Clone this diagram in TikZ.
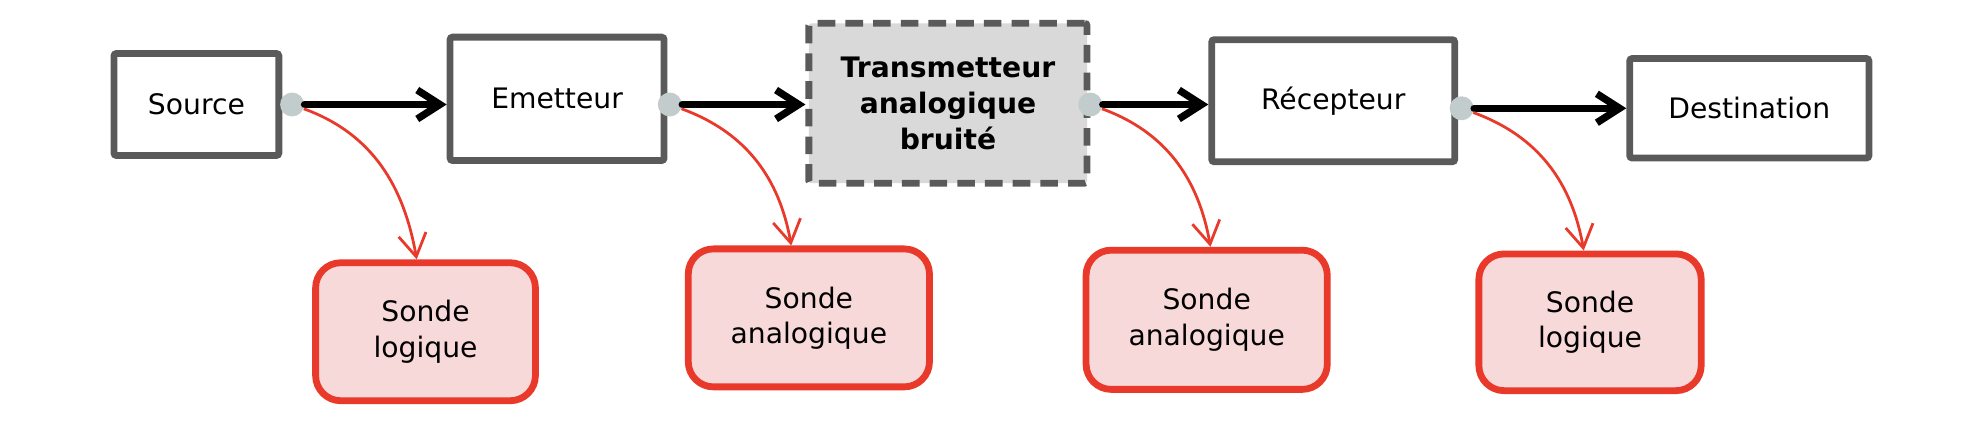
\documentclass[tikz,border=0pt]{standalone}
\usepackage{fontspec}
\setmainfont{DejaVu Sans}
\usetikzlibrary{arrows.meta,calc}
\definecolor{boxgray}{HTML}{5A5A5A}
\definecolor{tapgray}{HTML}{C3CCCD}
\definecolor{chanfill}{HTML}{D9D9D9}
\definecolor{probered}{HTML}{E8392A}
\definecolor{probefill}{HTML}{F8D9DA}
\begin{document}
\begin{tikzpicture}[x=0.5pt,y=-0.5pt,
    font=\fontsize{11.2}{14}\selectfont,
    block/.style={draw=boxgray,line width=2.7pt,rounded corners=1pt,fill=white,inner sep=0pt,align=center},
    channel/.style={block,fill=chanfill,dash pattern=on 7pt off 4pt,font=\fontsize{11.2}{14.3}\selectfont\bfseries},
    probe/.style={draw=probered,fill=probefill,line width=2.7pt,rounded corners=10pt,inner sep=0pt,align=center},
    tap/.style={circle,fill=tapgray,inner sep=0pt,minimum size=9.5pt},
    flow/.style={line width=2.9pt,line cap=round,line join=round,-{Straight Barb[length=9pt,width=11.5pt]}},
    spy/.style={color=probered,line width=1.1pt,-{Straight Barb[length=9pt,width=11pt]}}]
      \useasboundingbox (0,0) rectangle (1568,338.4);
      \draw
        (156,83) node[block,minimum width=65.5pt,minimum height=40.5pt] (src){Source}
        (442.5,78.5) node[block,minimum width=85pt,minimum height=49pt] (emt){Emetteur}
        (753,82) node[channel,minimum width=110.5pt,minimum height=63.5pt] (chan){Transmetteur\\analogique\\bruité}
        (1059,80) node[block,minimum width=96.5pt,minimum height=48.5pt] (rec){Récepteur}
        (1389.5,86) node[block,minimum width=95pt,minimum height=39.5pt] (dest){Destination};
      \draw
        (338,263.5) node[probe,minimum width=87.3pt,minimum height=54.8pt] (p1){Sonde\\logique}
        (642.5,252.5) node[probe,minimum width=95.8pt,minimum height=54.8pt] (p2){Sonde\\analogique}
        (958.5,254) node[probe,minimum width=95.8pt,minimum height=55.3pt] (p3){Sonde\\analogique}
        (1263,256) node[probe,minimum width=88.3pt,minimum height=54.3pt] (p4){Sonde\\logique};
      \draw
        (232,83) node[tap] (t1){}
        (532,83) node[tap] (t2){}
        (866,83) node[tap] (t3){}
        (1161,86) node[tap] (t4){};
      \begin{scope}[flow]
        \draw (t1.east) to (t1 -| emt.west);
        \draw (t2.east) to (t2 -| chan.west);
        \draw (t3.east) to (t3 -| rec.west);
        \draw (t4.east) to (dest.west);
      \end{scope}
      \begin{scope}[spy]
        \draw (t1.-20) to[out=-20,in=100] ($(p1.north)+(-7,0)$);
        \draw (t2.-20) to[out=-20,in=100] ($(p2.north)+(-14,0)$);
        \draw (t3.-20) to[out=-20,in=100] ($(p3.north)+(3,0)$);
        \draw (t4.-20) to[out=-20,in=100] ($(p4.north)+(-5,0)$);
      \end{scope}
    \end{tikzpicture}
\end{document}
